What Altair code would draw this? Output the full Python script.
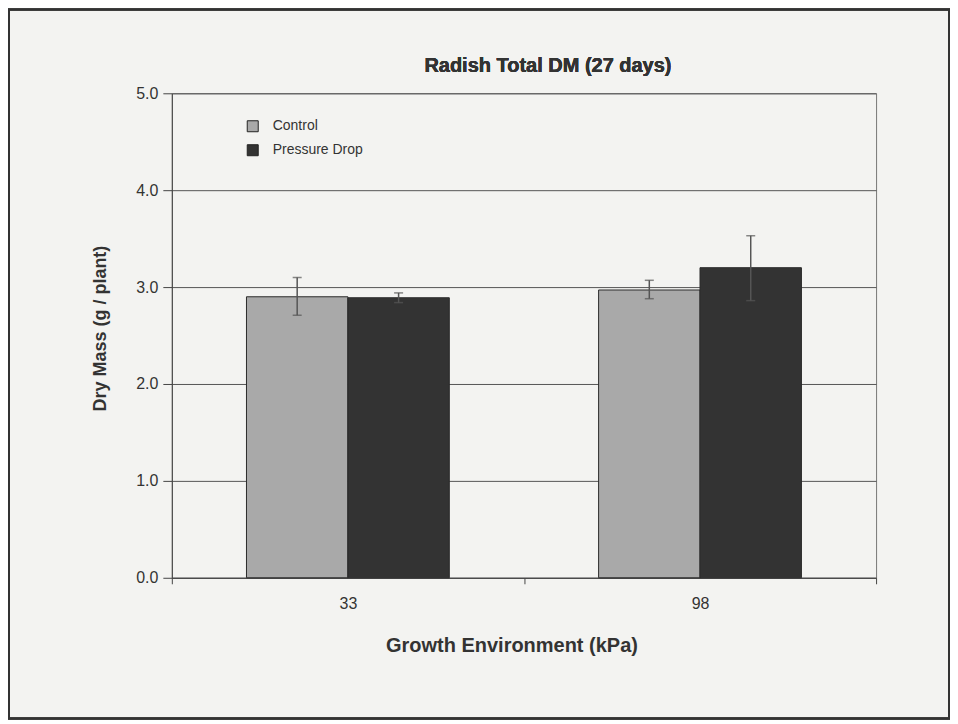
import altair as alt
import pandas as pd

env = ["33", "33", "98", "98"]
treatment = ["Control", "Pressure Drop", "Control", "Pressure Drop"]
mean = [2.90, 2.89, 2.97, 3.20]
err_lo = [2.71, 2.84, 2.88, 2.86]
err_hi = [3.10, 2.94, 3.07, 3.53]
title_text = "Radish Total DM (27 days)"

df = pd.DataFrame({"env": env, "treatment": treatment, "mean": mean,
                   "lo": err_lo, "hi": err_hi})

FONT = "Liberation Sans"
W, H = 705, 485

x_enc = alt.X("env:N", title="Growth Environment (kPa)",
              scale=alt.Scale(paddingInner=0, paddingOuter=0),
              axis=alt.Axis(labelAngle=0, tickBand="extent", tickSize=6,
                            grid=False, labelPadding=12, titlePadding=24,
                            labelFontSize=16, titleFontSize=20, titleX=340,
                            domainColor="#444", tickColor="#444"))
xo = alt.XOffset("treatment:N",
                 scale=alt.Scale(paddingInner=0, paddingOuter=0.736),
                 sort=["Control", "Pressure Drop"])
y_scale = alt.Scale(domain=[0, 5], nice=False)

bars = alt.Chart(df).mark_bar(stroke="#2a2a2a", strokeWidth=1).encode(
    x=x_enc,
    xOffset=xo,
    y=alt.Y("mean:Q", scale=y_scale, title="Dry Mass (g / plant)",
            axis=alt.Axis(values=[0, 1, 2, 3, 4, 5], format=".1f", tickSize=9,
                          labelPadding=5, titlePadding=26, labelFontSize=16,
                          titleFontSize=18, titleY=235, gridColor="#555",
                          gridWidth=1, domainColor="#444", tickColor="#444")),
    color=alt.Color("treatment:N", title=None,
                    scale=alt.Scale(domain=["Control", "Pressure Drop"],
                                    range=["#a9a9a9", "#333333"]),
                    legend=alt.Legend(orient="none", legendX=74, legendY=26,
                                      symbolType="square", symbolSize=121,
                                      symbolStrokeColor="#222",
                                      symbolStrokeWidth=1, labelFontSize=14,
                                      labelOffset=13, rowPadding=8,
                                      labelColor="#333")),
)

rules = alt.Chart(df).mark_rule(color="#555", strokeWidth=1.5).encode(
    x="env:N", xOffset=xo,
    y=alt.Y("lo:Q", scale=y_scale), y2="hi:Q")

caps_hi = alt.Chart(df).mark_tick(color="#555", orient="horizontal", size=9,
                                  thickness=1.5).encode(
    x="env:N", xOffset=xo, y=alt.Y("hi:Q", scale=y_scale))
caps_lo = alt.Chart(df).mark_tick(color="#555", orient="horizontal", size=9,
                                  thickness=1.5).encode(
    x="env:N", xOffset=xo, y=alt.Y("lo:Q", scale=y_scale))

title = alt.Chart(df).mark_text(font=FONT, fontSize=20, fontWeight="bold",
                                color="#333", baseline="alphabetic",
                                align="center").encode(
    x=alt.value(W / 2 + 24), y=alt.value(-21), text=alt.value(title_text))

frame = alt.Chart(df).mark_rect(fill=None, stroke="#333", strokeWidth=2).encode(
    x=alt.value(-163), x2=alt.value(W + 73),
    y=alt.value(-84), y2=alt.value(H + 141))

chart = alt.layer(bars, rules, caps_hi, caps_lo, title, frame).properties(
    width=W, height=H,
    autosize=alt.AutoSizeParams(type="none"),
    padding={"left": 164, "top": 85, "right": 74, "bottom": 142},
    background="#f3f3f1",
).configure_view(
    stroke="#777", strokeWidth=1
).configure_axis(
    labelFont=FONT, titleFont=FONT, labelColor="#333", titleColor="#333",
    titleFontWeight="bold"
).configure_legend(labelFont=FONT)

chart.save("out.html", embed_options={"renderer": "svg", "actions": False})
